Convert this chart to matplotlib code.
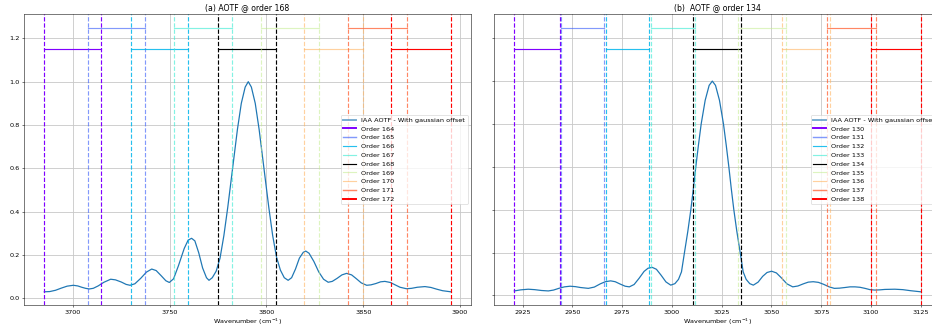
import matplotlib
matplotlib.use("Agg")
import matplotlib.pyplot as plt
import numpy as np
from matplotlib.lines import Line2D

# ---- panel (a): AOTF centred on order 168 ----
wn_a = [3685.2, 3688, 3691, 3694, 3697, 3700.2, 3702.5, 3704.5, 3706.5, 3708.4,
        3710.5, 3713, 3716, 3719.5, 3722, 3725, 3727.5, 3729.5, 3732, 3735,
        3738, 3740.7, 3743, 3745.5, 3748, 3749.8, 3752, 3754.5, 3757.5, 3759.5,
        3761.3, 3763, 3765, 3767, 3769, 3770.3, 3772, 3774, 3776, 3778,
        3780, 3782.5, 3785, 3787, 3789, 3790.6, 3792.2, 3794.2, 3796.2, 3798.7,
        3801.2, 3803.2, 3805.2, 3807.2, 3809.2, 3811.2, 3813, 3815, 3817, 3819,
        3820.3, 3822, 3824.5, 3827, 3829.5, 3831.9, 3834, 3836.5, 3839, 3841.4,
        3844, 3846.5, 3849, 3851.8, 3854, 3856.5, 3859, 3861.2, 3864, 3866.5,
        3869, 3872.4, 3875, 3878, 3881.9, 3885, 3888, 3891, 3895.2]
aotf_a = [0.030, 0.031, 0.037, 0.047, 0.056, 0.060, 0.057, 0.051, 0.046, 0.043,
          0.046, 0.057, 0.074, 0.088, 0.085, 0.075, 0.064, 0.060, 0.067, 0.092,
          0.121, 0.135, 0.128, 0.105, 0.081, 0.073, 0.090, 0.150, 0.230, 0.268,
          0.277, 0.265, 0.210, 0.140, 0.095, 0.083, 0.095, 0.125, 0.185, 0.290,
          0.420, 0.600, 0.780, 0.900, 0.975, 1.000, 0.975, 0.900, 0.780, 0.600,
          0.420, 0.290, 0.190, 0.130, 0.095, 0.083, 0.095, 0.135, 0.185, 0.212,
          0.218, 0.208, 0.170, 0.122, 0.088, 0.074, 0.078, 0.092, 0.108, 0.115,
          0.108, 0.090, 0.071, 0.060, 0.062, 0.068, 0.076, 0.078, 0.073, 0.062,
          0.051, 0.044, 0.046, 0.051, 0.054, 0.050, 0.042, 0.035, 0.030]
orders_a = [164, 165, 166, 167, 168, 169, 170, 171, 172]
start_a = [3685.2, 3707.6, 3730.0, 3752.4, 3774.8, 3797.2, 3819.4, 3842.1, 3864.3]
end_a = [3714.5, 3737.0, 3759.6, 3782.3, 3804.7, 3827.3, 3850.0, 3872.4, 3895.2]

# ---- panel (b): AOTF centred on order 134 ----
wn_b = [2920.8, 2924, 2927.8, 2931, 2934.5, 2937.9, 2940.5, 2943.5, 2946, 2948.8,
        2951.5, 2954, 2958, 2961, 2964, 2966.5, 2969.2, 2971.5, 2974, 2976.5,
        2978.6, 2981, 2983.5, 2986, 2988, 2990.1, 2992.2, 2994.5, 2997, 2999.4,
        3001.5, 3003.3, 3004.8, 3006.3, 3008, 3009.5, 3010.8, 3012, 3013.3, 3014.7,
        3016.7, 3018.7, 3020.3, 3021.9, 3023.9, 3025.9, 3027.3, 3028.6, 3029.8, 3031.1,
        3032.6, 3034.3, 3035.8, 3037.3, 3039.1, 3040.9, 3043.3, 3045.6, 3047.8, 3050.1,
        3052.5, 3055, 3057.8, 3060.7, 3063.3, 3066, 3068.5, 3071, 3073.6, 3076.2,
        3079, 3081.6, 3084.2, 3087, 3089.5, 3092, 3094.5, 3097, 3099.5, 3102,
        3104.5, 3107, 3112, 3116, 3120, 3125]
aotf_b = [0.021, 0.026, 0.029, 0.027, 0.023, 0.021, 0.025, 0.034, 0.040, 0.043,
          0.041, 0.037, 0.033, 0.039, 0.054, 0.064, 0.068, 0.064, 0.053, 0.043,
          0.040, 0.051, 0.080, 0.112, 0.127, 0.131, 0.122, 0.095, 0.063, 0.048,
          0.055, 0.075, 0.110, 0.200, 0.300, 0.400, 0.500, 0.600, 0.700, 0.800,
          0.910, 0.980, 1.000, 0.980, 0.910, 0.800, 0.700, 0.600, 0.500, 0.400,
          0.300, 0.200, 0.110, 0.075, 0.055, 0.048, 0.062, 0.089, 0.107, 0.113,
          0.105, 0.082, 0.054, 0.040, 0.044, 0.054, 0.062, 0.064, 0.061, 0.052,
          0.040, 0.033, 0.034, 0.037, 0.040, 0.040, 0.038, 0.033, 0.027, 0.025,
          0.026, 0.028, 0.029, 0.027, 0.022, 0.017]
orders_b = [130, 131, 132, 133, 134, 135, 136, 137, 138]
start_b = [2920.8, 2944.3, 2966.8, 2989.5, 3010.7, 3033.0, 3055.5, 3077.8, 3100.2]
end_b = [2943.6, 2966.0, 2988.6, 3011.7, 3034.5, 3057.2, 3079.4, 3102.4, 3125.0]

levels = [1.15, 1.25, 1.15, 1.25, 1.15, 1.25, 1.15, 1.25, 1.15]
line_alpha = [1.0, 0.65, 0.85, 0.65, 1.0, 0.55, 0.6, 0.75, 1.0]
legend_lw = [3, 2.2, 1.8, 1.8, 1.8, 1.8, 1.8, 2.2, 3]


def plot_panel(ax, wn, aotf, orders, starts, ends, title):
    colours = list(plt.cm.rainbow(np.linspace(0, 1, len(orders))))
    colours[len(orders) // 2] = (0, 0, 0, 1)

    ax.plot(wn, aotf, color="tab:blue", lw=1.9, label="IAA AOTF - With gaussian offset")
    handles = [Line2D([], [], color="tab:blue", lw=3, alpha=0.6)]
    labels = ["IAA AOTF - With gaussian offset"]

    for i, order in enumerate(orders):
        c = colours[i]
        a = line_alpha[i]
        ax.axvline(starts[i], color=c, linestyle="--", lw=1.8, alpha=a)
        ax.axvline(ends[i], color=c, linestyle="--", lw=1.8, alpha=a)
        ax.plot([starts[i], ends[i]], [levels[i], levels[i]], color=c, lw=1.8, alpha=a)
        handles.append(Line2D([], [], color=c, lw=legend_lw[i], alpha=a))
        labels.append(f"Order {order}")

    ax.legend(handles, labels, loc="center right")
    ax.set_title(title)
    ax.set_xlabel("Wavenumber (cm$^{-1}$)")
    ax.grid(color="#c8c8c8", lw=1.3)


fig = plt.figure(figsize=(20, 333 / 46.6), dpi=46.6)
ax1 = fig.add_axes([24 / 932, 28 / 333, 447 / 932, 290.7 / 333])
ax2 = fig.add_axes([494 / 932, 28 / 333, 447 / 932, 290.7 / 333])

plot_panel(ax1, wn_a, aotf_a, orders_a, start_a, end_a, "(a) AOTF @ order 168")
plot_panel(ax2, wn_b, aotf_b, orders_b, start_b, end_b, "(b)  AOTF @ order 134")

ax1.set_xticks([3700, 3750, 3800, 3850, 3900])
ax2.set_xticks([2925, 2950, 2975, 3000, 3025, 3050, 3075, 3100, 3125])
ax1.set_yticks([0.0, 0.2, 0.4, 0.6, 0.8, 1.0, 1.2])
ax2.set_yticks([0.0, 0.2, 0.4, 0.6, 0.8, 1.0, 1.2])
ax2.set_yticklabels([])

fig.savefig("out.png", dpi=46.6)
